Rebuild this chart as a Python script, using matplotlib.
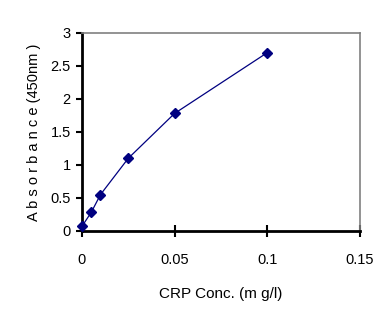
import matplotlib.pyplot as plt

conc = [0, 0.005, 0.01, 0.025, 0.05, 0.1]
absorbance = [0.07, 0.28, 0.55, 1.1, 1.78, 2.7]

xticks = [0, 0.05, 0.1, 0.15]
xticklabels = ['0', '0.05', '0.1', '0.15']
yticks = [0, 0.5, 1, 1.5, 2, 2.5, 3]
yticklabels = ['0', '0.5', '1', '1.5', '2', '2.5', '3']

plt.rcParams['font.family'] = ['Liberation Sans', 'DejaVu Sans']

fig = plt.figure(figsize=(3.92, 3.29), dpi=100)
ax = fig.add_axes([0.209, 0.298, 0.709, 0.602])

ax.plot(conc, absorbance, color='#000080', lw=0.9, marker='D', ms=5.5,
        mec='#000080', mfc='#000080', clip_on=False, zorder=3)

ax.set_xlim(0, 0.15)
ax.set_ylim(0, 3)
ax.set_xticks(xticks)
ax.set_xticklabels(xticklabels)
ax.set_yticks(yticks)
ax.set_yticklabels(yticklabels)

for s in ['left', 'bottom']:
    ax.spines[s].set_linewidth(2)
    ax.spines[s].set_color('black')
for s in ['top', 'right']:
    ax.spines[s].set_linewidth(1.2)
    ax.spines[s].set_color('#808080')

ax.tick_params(axis='x', direction='inout', length=8, width=1.5, pad=12,
               labelsize=10.5)
ax.tick_params(axis='y', direction='out', length=4, width=1.5, pad=4,
               labelsize=10.5)

ax.set_xlabel('CRP Conc. (m g/l)', fontsize=11, labelpad=14)
ax.set_ylabel('A b s o r b a n c e (450nm )', fontsize=10.5, labelpad=7)

fig.savefig('out.png', dpi=100)
